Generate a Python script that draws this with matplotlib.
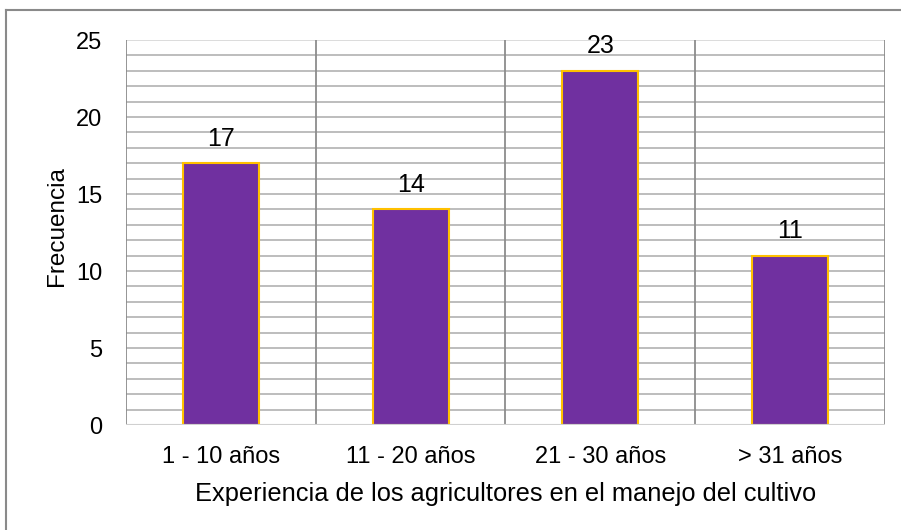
import matplotlib
matplotlib.use("Agg")
import matplotlib.pyplot as plt
import numpy as np
from matplotlib.lines import Line2D

plt.rcParams['font.family'] = ['Liberation Sans', 'DejaVu Sans']

categorias = ['1 - 10 años', '11 - 20 años', '21 - 30 años', '> 31 años']
frecuencia = [17, 14, 23, 11]
yticks = [0, 5, 10, 15, 20, 25]

fig = plt.figure(figsize=(9.01, 5.30), dpi=100)
ax = fig.add_axes([0.1398, 0.198, 0.8424, 0.7265])

x = np.arange(len(categorias))
bars = ax.bar(x, frecuencia, width=0.4, color='#7030A0', edgecolor='#FFC000',
              linewidth=1.5, zorder=3)

for b, v in zip(bars, frecuencia):
    ax.annotate(str(v), (b.get_x() + b.get_width() / 2, v), xytext=(0, 9),
                textcoords='offset points', ha='center', va='bottom', fontsize=18)

ax.set_xlim(-0.5, len(categorias) - 0.5)
ax.set_ylim(0, 25)

# lineas horizontales cada unidad
for yv in range(1, 26):
    col = '#d9d9d9' if yv == 25 else '#b8b8b8'
    ax.axhline(yv, color=col, linewidth=1.3, zorder=1)
ax.axhline(0, color='#d0d0d0', linewidth=1.5, zorder=4)

# separadores de categorias
for xv in np.arange(-0.5, len(categorias), 1.0):
    ax.axvline(xv, color='#8c8c8c', linewidth=1.3, zorder=2)

for s in ax.spines.values():
    s.set_visible(False)

ax.set_xticks(x)
ax.set_xticklabels(categorias)
ax.set_yticks(yticks)
ax.tick_params(axis='both', length=0, labelsize=17)
ax.tick_params(axis='x', pad=15)
ax.tick_params(axis='y', pad=17)

ax.set_xlabel('Experiencia de los agricultores en el manejo del cultivo',
              fontsize=18.3)
ax.xaxis.set_label_coords(0.5, -0.148)
ax.set_ylabel('Frecuencia', fontsize=17.5)
ax.yaxis.set_label_coords(-0.0765, 0.5156)

# marco del grafico
W, H = 901, 530
fig.add_artist(Line2D([6 / W, 6 / W], [0, 1 - 9.5 / H], color='#8a8a8a',
                      linewidth=1.5, transform=fig.transFigure))
fig.add_artist(Line2D([6 / W, 1], [1 - 9.5 / H, 1 - 9.5 / H], color='#8a8a8a',
                      linewidth=1.5, transform=fig.transFigure))

fig.savefig('out.png', dpi=100)
